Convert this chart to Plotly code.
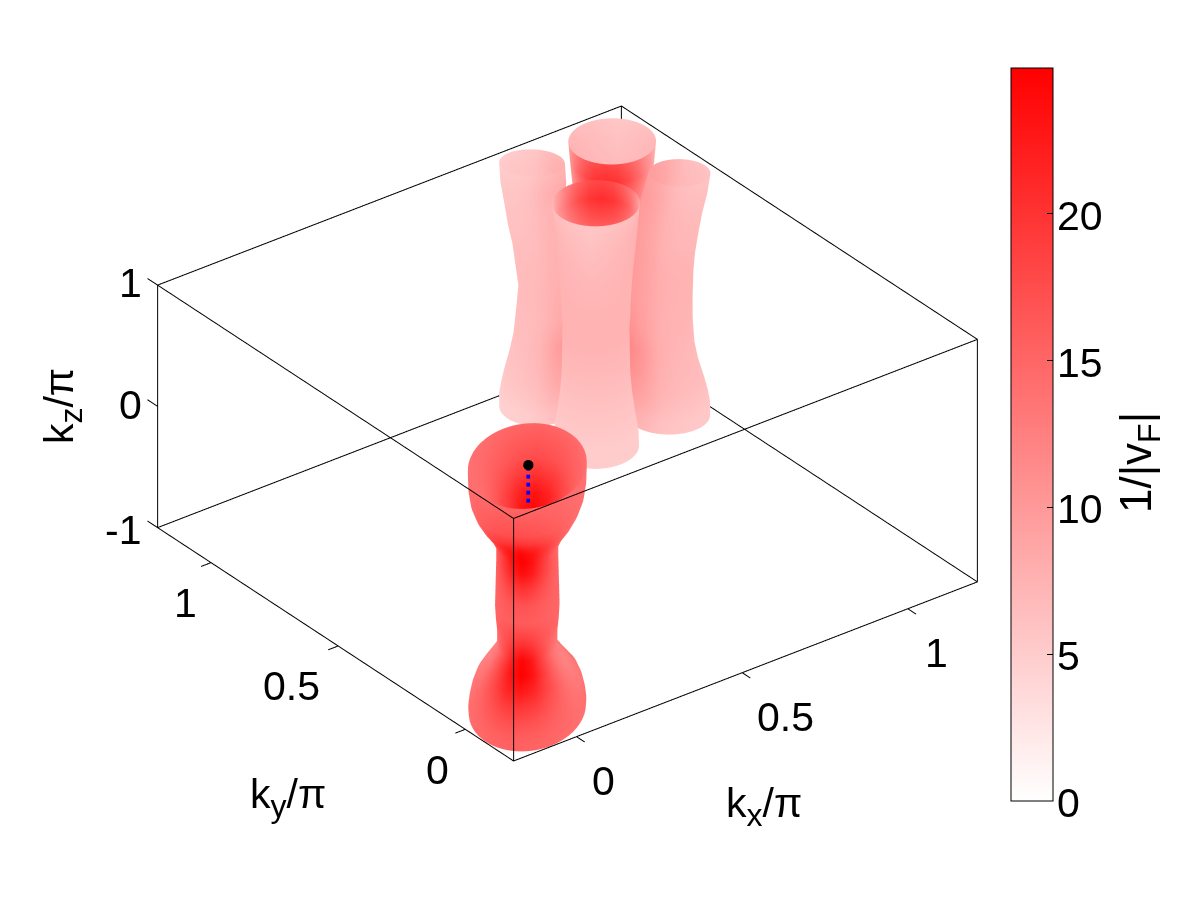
import numpy as np
import plotly.graph_objects as go

FONT = "Liberation Sans"
FS = 41
KX_RANGE = [-0.19, 1.21]
KY_RANGE = [-0.19, 1.21]
KZ_RANGE = [-1, 1]
TICKS_XY = [0, 0.5, 1]
TICKS_Z = [-1, 0, 1]
CBAR_TICKS = [0, 5, 10, 15, 20]
CMAX = 24.97

# central pocket around Gamma
RED_Z = [-1, -.95, -.884, -.8, -.72, -.64, -.554, -.47, -.347, -.25, -.14, 0, .132, .25, .355, .45, .545, .644, .744, .85, .96, 1]
RED_MINOR = [.139, .140, .1375, .132, .123, .108, .09, .072, .072, .075, .077, .076, .075, .074, .074, .088, .108, .124, .135, .140, .141, .141]
RED_MAJOR = [.205, .205, .2, .185, .165, .135, .105, .082, .08, .085, .09, .088, .085, .085, .09, .11, .14, .17, .19, .2, .205, .205]
RED_HOT = [15.5, 15.5, 16, 17.5, 19.5, 22.5, 24.9, 24.5, 20.5, 18, 16, 17, 20, 23.5, 24.9, 24.5, 23, 20, 17.5, 16.5, 15.5, 15]
RED_EDGE = [14, 14, 14, 13.5, 13, 12.5, 12, 12.5, 14, 15, 15, 15, 15, 15, 14.5, 14, 13.5, 13.5, 14, 14, 14, 14]
RED_W_DEG = [0, 15, 30, 45, 60, 75, 90, 105, 120, 135, 150, 165, 180]
RED_W = [1, .85, .55, .3, .12, .03, 0, .03, .12, .3, .55, .85, 1]

# four pockets around M
PINK_Z = [-1, -.9, -.81, -.7, -.55, -.4, -.2, 0, .2, .35, .5, .68, .85, 1]
LEFT_MAJOR = [.091, .093, .091, .089, .081, .074, .069, .062, .065, .067, .072, .074, .079, .079]
LEFT_OFFSET = [.116, .115, .113, .109, .106, .104, .103, .104, .108, .111, .115, .12, .123, .125]
RIGHT_MAJOR = [.100, .100, .098, .093, .084, .079, .075, .075, .074, .074, .077, .077, .077, .074]
RIGHT_OFFSET = [.108, .108, .106, .103, .099, .096, .096, .096, .098, .101, .104, .111, .12, .127]
SIDE_MINOR = [.095, .095, .09, .085, .078, .07, .065, .06, .06, .062, .064, .065, .065, .065]
LEFT_HOT = [7, 7.5, 8.5, 9.5, 10.5, 11, 9, 8.5, 8, 8, 8, 8, 8.5, 7.5]
LEFT_OUT = [4.5, 4.5, 5, 5.5, 5.8, 6, 6.3, 6.5, 6.5, 6.3, 6, 5.8, 5.4, 5]
RIGHT_HOT = [8, 8.5, 9.5, 10.5, 11.5, 12, 10.5, 10, 10, 10, 10, 10, 10, 9.5]
RIGHT_OUT = [5.3, 5.3, 5.8, 6.3, 6.6, 6.8, 7.1, 7.3, 7.3, 7.1, 6.8, 6.6, 6.2, 5.8]
SIDE_W_DEG = [0, 30, 60, 90, 120, 180]
SIDE_W = [1, .9, .65, .25, .1, 0]

FB_MINOR = [.103, .102, .098, .092, .086, .082, .081, .08, .083, .086, .09, .096, .101, .105]
FB_MAJOR = [.11, .11, .105, .1, .093, .088, .086, .085, .086, .09, .095, .102, .107, .11]
FB_HOT = [5.5, 5.5, 5.5, 5.8, 6, 6.3, 6.8, 7, 7.5, 9, 12, 17, 20.5, 18]
FB_OUT = [5, 5, 5.2, 5.5, 6, 6.5, 7.1, 7.5, 7.4, 7.2, 7, 6.5, 6, 5.5]
FB_W_DEG = [0, 15, 30, 45, 60, 90, 180]
FB_W = [1, .95, .8, .6, .4, .12, 0]

CENTER_M = 1.0
CENTER_RED = (-.012, -.012)
CENTER_BACK = (1.09, 1.09)
CENTER_FRONT = (.88, .88)

DOT_Z = [.98]
BLUE_Z = [.95, .884, .818, .752, .686]

# label offsets from their tick, in pixels (x right, y up)
XLAB_SHIFT = [(27, -44), (43, -44), (29, -44)]
YLAB_SHIFT = [(-28, -41), (-47, -40), (-26, -40)]
ZLAB_SHIFT = [(-35, -2), (-27, 1), (-27, 2)]

SCALE = [[0, "#ffffff"], [1, "#ff0000"]]
ANG = np.radians(np.arange(0, 361, 4))

BAR_L, BAR_R, BAR_T, BAR_B = 1011, 1053, 67, 800
PAD_XY, PAD_Z = 0.05, 0.03
TICK_X, TICK_Y, TICK_Z = 0.03, 0.032, 0.04
BASE_SCALE = 1.3805 / 1.4


def tube(cx, cy, z, r_major, r_minor, major_deg, hot, cold, hot_deg, w_deg, w, colorbar=False):
    z = np.array(z)
    az = np.radians(major_deg)
    a, b = np.array(r_major)[:, None], np.array(r_minor)[:, None]
    cx = np.broadcast_to(np.array(cx, dtype=float), z.shape)[:, None]
    cy = np.broadcast_to(np.array(cy, dtype=float), z.shape)[:, None]
    u = a * np.cos(ANG)[None, :]
    v = b * np.sin(ANG)[None, :]
    rx = u * np.cos(az) - v * np.sin(az)
    ry = u * np.sin(az) + v * np.cos(az)
    xs = cx + rx
    ys = cy + ry
    zs = np.repeat(z[:, None], len(ANG), axis=1)
    phi = np.degrees(np.arctan2(ry, rx))
    delta = np.abs((phi - hot_deg + 180) % 360 - 180)
    weight = np.interp(delta, w_deg, w)
    hot, cold = np.array(hot)[:, None], np.array(cold)[:, None]
    col = cold + (hot - cold) * weight
    return go.Surface(
        x=xs, y=ys, z=zs, surfacecolor=col, colorscale=SCALE, cmin=0, cmax=CMAX,
        showscale=colorbar, hoverinfo="skip",
        lighting=dict(ambient=1, diffuse=0, specular=0, roughness=1, fresnel=0),
        contours=dict(x=dict(highlight=False), y=dict(highlight=False), z=dict(highlight=False)),
        colorbar=dict(
            x=(BAR_L - 8) / 1200, xanchor="left", xpad=0, y=(900 - BAR_B + 7) / 900, yanchor="bottom", ypad=0,
            len=BAR_B - BAR_T, lenmode="pixels", thickness=BAR_R - BAR_L, thicknessmode="pixels",
            outlinecolor="black", outlinewidth=1, tickvals=CBAR_TICKS, ticks="inside",
            ticklen=6, tickcolor="black", showticklabels=False,
        ) if colorbar else None,
    )


def box_edges():
    x0, x1 = KX_RANGE
    y0, y1 = KY_RANGE
    z0, z1 = KZ_RANGE
    paths = [
        [(x0, y1, z1), (x1, y1, z1), (x1, y0, z1), (x0, y0, z1), (x0, y1, z1)],
        [(x0, y1, z0), (x1, y1, z0), (x1, y0, z0), (x0, y0, z0), (x0, y1, z0)],
        [(x0, y1, z0), (x0, y1, z1)],
        [(x0, y0, z0), (x0, y0, z1)],
        [(x1, y0, z0), (x1, y0, z1)],
        [(x1, y1, z0), (x1, y1, z1)],
    ]
    paths += [[(t, y0, z0), (t, y0 - TICK_Y, z0)] for t in TICKS_XY]
    paths += [[(x0, t, z0), (x0 - TICK_X, t, z0)] for t in TICKS_XY]
    paths += [[(x0, y1, t), (x0, y1 + TICK_Z, t)] for t in TICKS_Z]
    xs, ys, zs = [], [], []
    for path in paths:
        for p in path:
            xs.append(p[0]); ys.append(p[1]); zs.append(p[2])
        xs.append(None); ys.append(None); zs.append(None)
    return go.Scatter3d(x=xs, y=ys, z=zs, mode="lines", line=dict(color="black", width=2),
                        hoverinfo="skip", showlegend=False)


left_off, right_off = np.array(LEFT_OFFSET), np.array(RIGHT_OFFSET)
traces = [
    tube(*CENTER_RED, RED_Z, RED_MAJOR, RED_MINOR, 45, RED_HOT, RED_EDGE, 45, RED_W_DEG, RED_W, colorbar=True),
    tube(*CENTER_BACK, PINK_Z, FB_MAJOR, FB_MINOR, 45, FB_HOT, FB_OUT, 225, FB_W_DEG, FB_W),
    tube(*CENTER_FRONT, PINK_Z, FB_MAJOR, FB_MINOR, 45, FB_HOT, FB_OUT, 45, FB_W_DEG, FB_W),
    tube(CENTER_M - left_off, CENTER_M + left_off, PINK_Z, LEFT_MAJOR, SIDE_MINOR, -45, LEFT_HOT, LEFT_OUT, -45, SIDE_W_DEG, SIDE_W),
    tube(CENTER_M + right_off, CENTER_M - right_off, PINK_Z, RIGHT_MAJOR, SIDE_MINOR, -45, RIGHT_HOT, RIGHT_OUT, 135, SIDE_W_DEG, SIDE_W),
    box_edges(),
    go.Scatter3d(x=[0] * len(BLUE_Z), y=[0] * len(BLUE_Z), z=BLUE_Z, mode="markers",
                 marker=dict(color="#0000ff", size=2, symbol="square"), hoverinfo="skip", showlegend=False),
    go.Scatter3d(x=[0], y=[0], z=DOT_Z, mode="markers",
                 marker=dict(color="black", size=6), hoverinfo="skip", showlegend=False),
]


def axis(rng, pad):
    return dict(
        range=[rng[0] - pad, rng[1] + pad], autorange=False, showticklabels=False, ticks="",
        showgrid=False, zeroline=False, showbackground=False, showspikes=False, showline=False,
        title=dict(text=""),
    )


def label(x, y, z, text, dx, dy, angle=0):
    return dict(x=x, y=y, z=z, text=text, showarrow=False, xshift=dx, yshift=dy, textangle=angle,
                xanchor="center", yanchor="middle",
                font=dict(family=FONT, size=FS, color="black"))


SUB = '<sub><span style="font-size:32px">%s</span></sub>'
annots = []
for t, s in zip(TICKS_XY, XLAB_SHIFT):
    annots.append(label(t, KY_RANGE[0], KZ_RANGE[0], f"{t:g}", *s))
for t, s in zip(TICKS_XY, YLAB_SHIFT):
    annots.append(label(KX_RANGE[0], t, KZ_RANGE[0], f"{t:g}", *s))
for t, s in zip(TICKS_Z, ZLAB_SHIFT):
    annots.append(label(KX_RANGE[0], KY_RANGE[1], t, f"{t:g}", *s))
annots.append(label(sum(KX_RANGE) / 2, KY_RANGE[0], KZ_RANGE[0], "k" + SUB % "x" + "/π", 19, -135))
annots.append(label(KX_RANGE[0], sum(KY_RANGE) / 2, KZ_RANGE[0], "k" + SUB % "y" + "/π", -48, -153))
annots.append(label(KX_RANGE[0], KY_RANGE[1], 0, "k" + SUB % "z" + "/π", -95, 0, -90))

bar_h = BAR_B - BAR_T
tick_y = [(900 - BAR_B + v / CMAX * bar_h) / 900 for v in CBAR_TICKS]
shapes = [
    dict(type="line", xref="paper", yref="paper", x0=BAR_L / 1200, x1=(BAR_L + 6) / 1200,
         y0=y, y1=y, line=dict(color="black", width=1))
    for y in tick_y[1:]
]
paper_notes = [dict(xref="paper", yref="paper", x=1047 / 1200, y=y + 5 / 900, showarrow=False,
                    xanchor="left", yanchor="middle", text=str(v),
                    font=dict(family=FONT, size=FS, color="black"))
               for v, y in zip(CBAR_TICKS, tick_y)]
paper_notes.append(dict(xref="paper", yref="paper", x=1131 / 1200, y=(900 - 455) / 900, showarrow=False,
                        xanchor="center", yanchor="middle",
                        text="1/|v" + SUB % "F" + "|", textangle=-90,
                        font=dict(family=FONT, size=44, color="black")))

fig = go.Figure(traces)
fig.update_layout(
    width=1200, height=900, paper_bgcolor="white", plot_bgcolor="white",
    margin=dict(l=0, r=0, t=0, b=0), showlegend=False, shapes=shapes,
    annotations=paper_notes,
    scene=dict(
        domain=dict(x=[0, 0.9325], y=[0.0566, 0.9978]),
        bgcolor="white",
        aspectmode="manual",
        aspectratio=dict(x=BASE_SCALE * (1.4 + 2 * PAD_XY), y=BASE_SCALE * (1.4 + 2 * PAD_XY),
                         z=0.6626 * (2 + 2 * PAD_Z) / 2),
        xaxis=axis(KX_RANGE, PAD_XY),
        yaxis=axis(KY_RANGE, PAD_XY),
        zaxis=axis(KZ_RANGE, PAD_Z),
        annotations=annots,
        camera=dict(projection=dict(type="orthographic"), up=dict(x=0, y=0, z=1),
                    center=dict(x=0, y=0, z=0),
                    eye=dict(x=-0.525 * 2, y=-0.684 * 2, z=0.502 * 2)),
    ),
)
fig.write_html("out.html")
